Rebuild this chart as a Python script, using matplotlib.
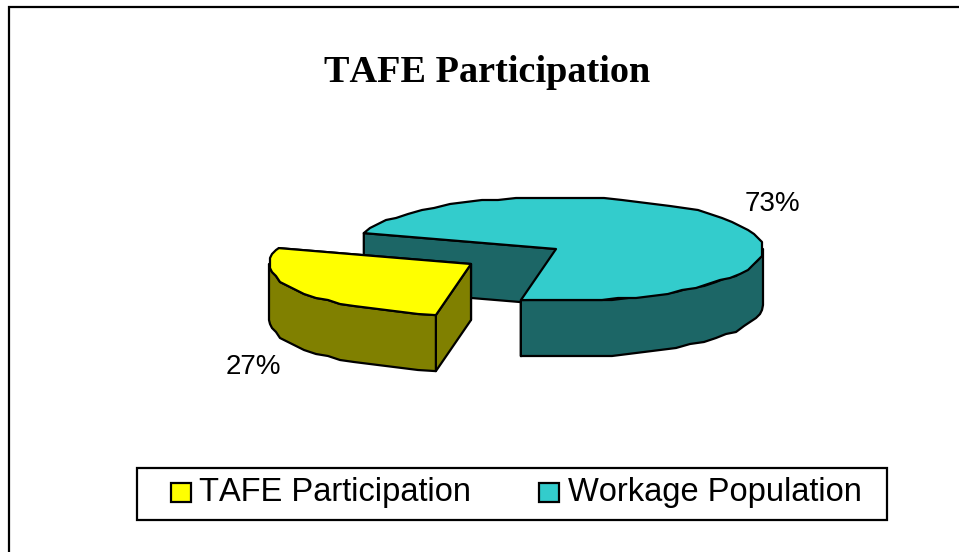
import numpy as np
import matplotlib
matplotlib.use('Agg')
import matplotlib.pyplot as plt
from matplotlib.patches import Polygon, Rectangle

plt.rcParams['text.kerning_factor'] = 6

# ── data ──
labels = ['TAFE Participation', 'Workage Population']
values = [27, 73]
pct_labels = ['27%', '73%']
top_colors = ['#FFFF00', '#33CCCC']
side_colors = ['#808000', '#1C6666']

# ── pie geometry, in image pixels ──
START = 100.6          # degrees, screen clockwise from +x
A, B = 204.5, 52.0     # ellipse semi axes
DEPTH = 56.0
APEX = np.array([556.0, 249.0])
ELL_SHIFT = np.array([2.5, 0.0])   # ellipse centre sits a bit right of the apex
EXPLODE = np.array([-85.0, 15.0])
LW = 1.6
SNAP = 2.0             # the original rim is a slightly wobbly polygon


def arc(t0, t1, origin):
    t = np.radians(np.arange(t0, t1, 5.0).tolist() + [t1])
    c = origin + ELL_SHIFT
    pts = np.column_stack([c[0] + A * np.cos(t), c[1] + B * np.sin(t)])
    # snap the inner vertices only, the slice corners stay exact
    pts[1:-1] = np.round(pts[1:-1] / SNAP) * SNAP
    return pts


def poly(ax, pts, color):
    ax.add_patch(Polygon(pts, closed=True, facecolor=color, edgecolor='black',
                         linewidth=LW, joinstyle='round'))


def draw_slice(ax, t0, t1, origin, top, side):
    down = np.array([0.0, DEPTH])
    p0 = arc(t0, t0, origin)[-1]
    p1 = arc(t1, t1, origin)[-1]

    # cut walls
    poly(ax, [origin, p1, p1 + down, origin + down], side)
    poly(ax, [origin, p0, p0 + down, origin + down], side)

    # outer wall, only the part that faces the viewer (sin t > 0)
    for lo, hi in [(t0, min(t1, 180.0)), (max(t0, 360.0), min(t1, 540.0))]:
        if hi > lo:
            a = arc(lo, hi, origin)
            poly(ax, np.vstack([a, (a + down)[::-1]]), side)

    poly(ax, np.vstack([[origin], arc(t0, t1, origin)]), top)


fig = plt.figure(figsize=(9.59, 5.52), dpi=100)
ax = fig.add_axes([0, 0, 1, 1])
ax.set_xlim(0, 959)
ax.set_ylim(552, 0)
ax.axis('off')

# chart frame: only left and top edges are inside the picture
ax.plot([9, 9, 959], [552, 6.5, 6.5], color='black', lw=LW, solid_joinstyle='miter')

sweeps = np.array(values) / sum(values) * 360.0
t_tafe = (START, START + sweeps[0])
t_work = (t_tafe[1], t_tafe[1] + sweeps[1])

# back slice first, exploded slice over it
draw_slice(ax, *t_work, APEX, top_colors[1], side_colors[1])
draw_slice(ax, *t_tafe, APEX + EXPLODE, top_colors[0], side_colors[0])

ax.text(487.5, 72, 'TAFE Participation', family='Liberation Serif', weight='bold',
        fontsize=27.5, ha='center', va='center', color='black')

ax.text(253.5, 367, pct_labels[0], family='Liberation Sans', fontsize=20,
        ha='center', va='center', color='black')
ax.text(772.5, 204, pct_labels[1], family='Liberation Sans', fontsize=20,
        ha='center', va='center', color='black')

# legend box
ax.add_patch(Rectangle((137, 468), 750, 52, facecolor='white', edgecolor='black', linewidth=LW))
for x_sw, x_txt, lab, col in zip([171, 539], [199, 568], labels, top_colors):
    ax.add_patch(Rectangle((x_sw, 483), 20, 19, facecolor=col, edgecolor='black', linewidth=LW))
    ax.text(x_txt, 493, lab, family='Liberation Sans', fontsize=23.5,
            ha='left', va='center', color='black')

fig.savefig('out.png', dpi=100)
